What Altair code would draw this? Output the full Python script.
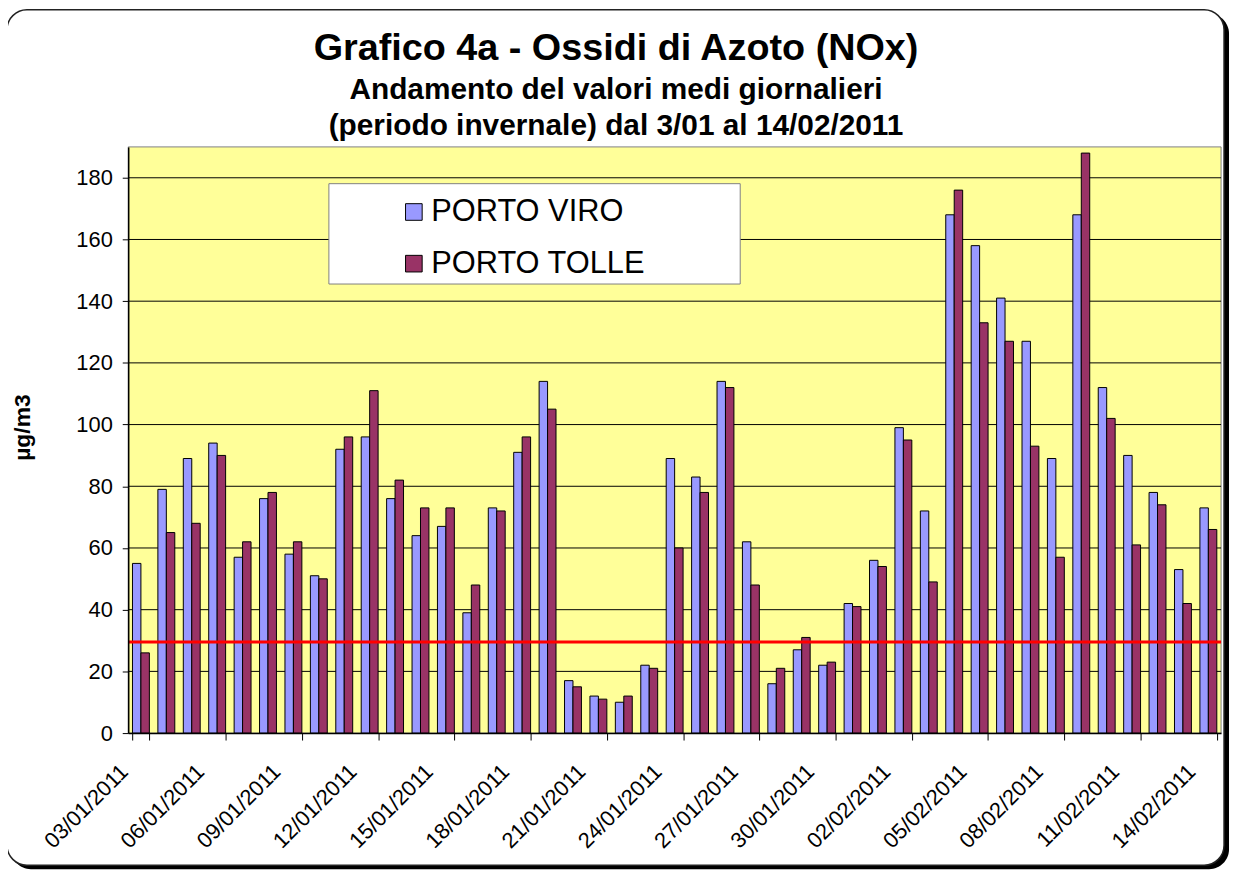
import altair as alt
import pandas as pd

# ---- data ----
dates = [f"{d:02d}/01/2011" for d in range(3, 32)] + [f"{d:02d}/02/2011" for d in range(1, 15)]
series = ["PORTO VIRO", "PORTO TOLLE"]
porto_viro = [55, 79, 89, 94, 57, 76, 58, 51, 92, 96, 76, 64, 67, 39, 73, 91, 114, 17, 12, 10, 22,
              89, 83, 114, 62, 16, 27, 22, 42, 56, 99, 72, 168, 158, 141, 127, 89, 168, 112, 90, 78, 53, 73]
porto_tolle = [26, 65, 68, 90, 62, 78, 62, 50, 96, 111, 82, 73, 73, 48, 72, 96, 105, 15, 11, 12, 21,
               60, 78, 112, 48, 21, 31, 23, 41, 54, 95, 49, 176, 133, 127, 93, 57, 188, 102, 61, 74, 42, 66]
limit_value = [29.5]
y_ticks = [0, 20, 40, 60, 80, 100, 120, 140, 160, 180]
grid_values = [20, 40, 60, 80, 100, 120, 140, 160, 180]
x_label_values = dates[::3]
title_text = "Grafico 4a - Ossidi di Azoto (NOx)"
subtitle_lines = ["Andamento del valori medi giornalieri",
                  "(periodo invernale) dal 3/01 al 14/02/2011"]

W, H = 1100, 590
FONT = "Liberation Sans"
CX = 491  # horizontal centre of the title, relative to plot origin

df = pd.DataFrame({
    "date": dates * 2,
    "series": [series[0]] * len(dates) + [series[1]] * len(dates),
    "value": porto_viro + porto_tolle,
})
one = pd.DataFrame({"k": [0]})
yscale = alt.Scale(domain=[0, 190], nice=False, zero=True)
y_axis = alt.Axis(values=y_ticks, grid=False, labelFontSize=22, labelFont=FONT,
                  labelColor="black", tickSize=6, tickColor="black", labelPadding=10,
                  domainColor="black", domainWidth=1.5, titleFontSize=23,
                  titleFont=FONT, titleFontWeight="bold", titleColor="black",
                  titleX=-94, titleY=282, zindex=1)


def yenc(field):
    return alt.Y(field, scale=yscale, title="µg/m3", axis=y_axis)


shadow = alt.Chart(one).mark_rect(cornerRadius=20, fill="black", clip=False).encode(
    x=alt.value(-118), x2=alt.value(1108), y=alt.value(-134), y2=alt.value(727))
frame = alt.Chart(one).mark_rect(cornerRadius=20, fill="white", stroke="#222222", strokeWidth=1.5,
                                 clip=False).encode(
    x=alt.value(-122), x2=alt.value(1103), y=alt.value(-138), y2=alt.value(723))
plotbg = alt.Chart(one).mark_rect(fill="#FFFF99", stroke="#808080", strokeWidth=1).encode(
    x=alt.value(0), x2=alt.value(W), y=alt.value(0), y2=alt.value(H))
grid = alt.Chart(pd.DataFrame({"g": grid_values})).mark_rule(color="black", strokeWidth=1).encode(
    y=yenc("g:Q"))
legbox = alt.Chart(one).mark_rect(fill="white", stroke="#808080", strokeWidth=1).encode(
    x=alt.value(202), x2=alt.value(616), y=alt.value(37), y2=alt.value(138))

bars = alt.Chart(df).mark_bar(stroke="black", strokeWidth=1, opacity=1).encode(
    x=alt.X("date:N", sort=dates, title=None,
            scale=alt.Scale(paddingInner=0.335, paddingOuter=0.1675),
            axis=alt.Axis(values=x_label_values, tickBand="extent", labelAngle=-45,
                          labelAlign="right", labelBaseline="middle", labelFontSize=22,
                          labelFont=FONT, labelColor="black", labelOffset=-17, labelPadding=28,
                          tickSize=7, tickColor="black", domainColor="black", domainWidth=1.5,
                          labelOverlap=False, grid=False, zindex=1)),
    xOffset=alt.XOffset("series:N", sort=series, scale=alt.Scale(paddingInner=0, paddingOuter=0)),
    y=yenc("value:Q"),
    color=alt.Color("series:N", sort=series,
                    scale=alt.Scale(domain=series, range=["#9999FF", "#993366"]),
                    legend=alt.Legend(title=None, orient="none", legendX=272, legendY=50,
                                      symbolType="square", symbolSize=280,
                                      symbolStrokeColor="black", symbolStrokeWidth=1,
                                      labelFontSize=31, labelFont=FONT, labelColor="black",
                                      labelOffset=2, rowPadding=20, padding=0, labelLimit=400)),
)

limit = alt.Chart(pd.DataFrame({"lim": limit_value})).mark_rule(color="#FF0000", strokeWidth=3).encode(
    y=yenc("lim:Q"))

title_mark = alt.Chart(pd.DataFrame({"t": [title_text]})).mark_text(
    font=FONT, fontSize=38, fontWeight="bold", color="black", align="center",
    baseline="alphabetic", clip=False).encode(
    text="t:N", x=alt.value(CX), y=alt.value(-87))
sub_marks = [
    alt.Chart(pd.DataFrame({"t": [line]})).mark_text(
        font=FONT, fontSize=30, fontWeight="bold", color="black", align="center",
        baseline="alphabetic", clip=False).encode(
        text="t:N", x=alt.value(CX), y=alt.value(yy))
    for line, yy in zip(subtitle_lines, [-48, -12])
]

chart = alt.layer(shadow, frame, plotbg, grid, legbox, bars, limit, title_mark, *sub_marks).properties(
    width=W, height=H,
    padding={"left": 121, "top": 137, "right": 10, "bottom": 138},
    autosize=alt.AutoSizeParams(type="none"),
).configure_view(stroke=None).configure(background="white")

chart.save("out.html", embed_options={"renderer": "svg", "actions": False})
